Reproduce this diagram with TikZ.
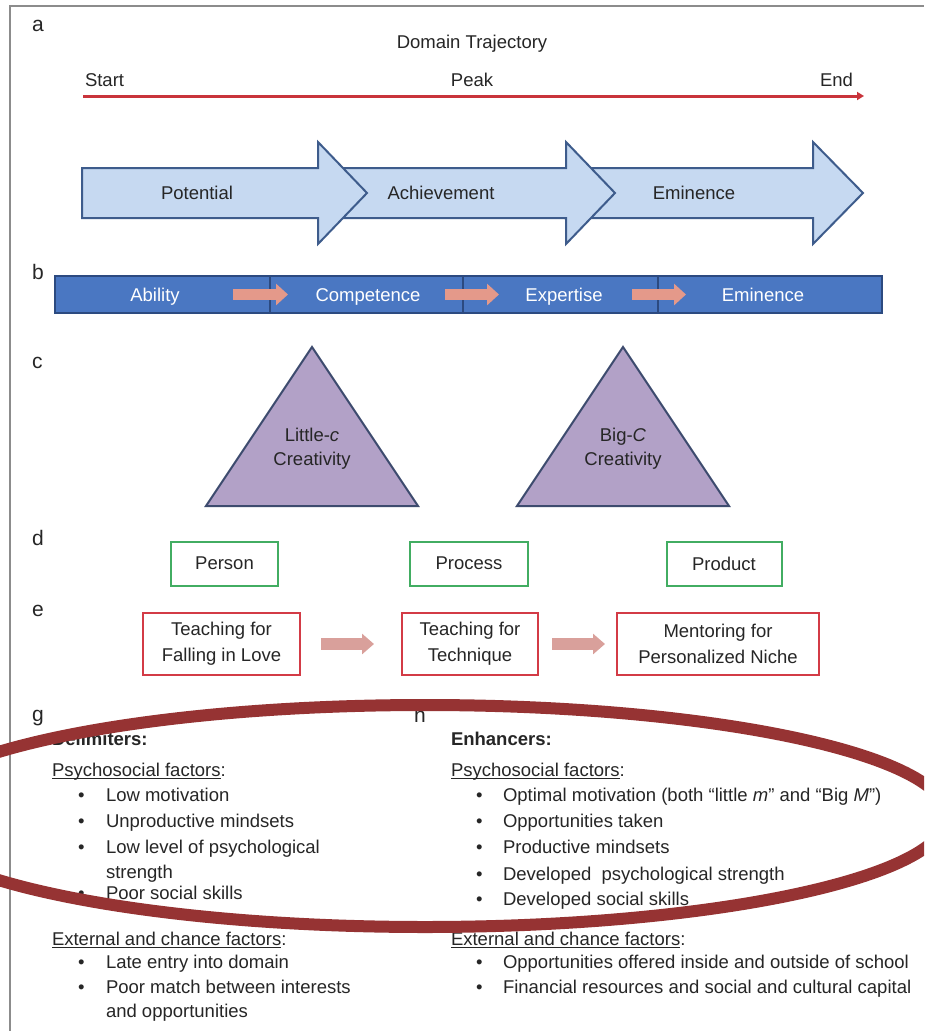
\documentclass[tikz,border=0pt]{standalone}
\usepackage{fontspec}
\setmainfont{Liberation Sans}
\usetikzlibrary{arrows.meta}
\definecolor{txt}{HTML}{262626}
\definecolor{framec}{HTML}{8C8C8C}
\definecolor{trajred}{HTML}{C9343B}
\definecolor{arrowfill}{HTML}{C6D9F1}
\definecolor{arrowline}{HTML}{3E5C8C}
\definecolor{barfill}{HTML}{4A77C2}
\definecolor{barline}{HTML}{2C4A80}
\definecolor{salmon}{HTML}{E4998A}
\definecolor{salmontwo}{HTML}{D9A09B}
\definecolor{trifill}{HTML}{B2A1C7}
\definecolor{triline}{HTML}{3D4B6E}
\definecolor{greenbox}{HTML}{42AD62}
\definecolor{redbox}{HTML}{D33B46}
\definecolor{ellipsec}{HTML}{963333}
\newcommand\myfs{\fontsize{18.5}{24}\selectfont}
\newcommand\myul[1]{\setbox0\hbox{#1}\rlap{\rule[-2.4pt]{\wd0}{0.9pt}}\box0}
\begin{document}
\begin{tikzpicture}[x=1pt,y=-1pt,
  every node/.style={inner sep=0pt,outer sep=0pt,text=txt,font=\myfs},
  lbl/.style={anchor=base west,font=\fontsize{21}{24}\selectfont},
  tl/.style={anchor=base west},
  tc/.style={anchor=base},
  bigarrow/.style={fill=arrowfill,draw=arrowline,line width=2pt,line join=miter},
  trajline/.style={draw=trajred,line width=3pt,-{Triangle[length=7pt,width=8pt]}},
  barstyle/.style={fill=barfill,draw=barline,line width=1.6pt},
  bardiv/.style={draw=barline,line width=1.2pt},
  barrow/.style={draw=salmon,line width=11pt,-{Triangle[length=12pt,width=21pt]}},
  boxarrow/.style={draw=salmontwo,line width=12pt,-{Triangle[length=12pt,width=20pt]}},
  tri/.style={fill=trifill,draw=triline,line width=2pt,line join=miter},
  gbox/.style={draw=greenbox,line width=2pt,minimum height=44pt,align=center},
  rbox/.style={draw=redbox,line width=2pt,minimum height=62pt,align=center,font=\fontsize{18.5}{26}\selectfont},
  ring/.style={draw=ellipsec,line width=12pt}
]
\useasboundingbox (0,0) rectangle (924,1031);
\fill[white] (0,0) rectangle (924,1031);
\draw[framec,line width=2pt] (10,1031) -- (10,6) -- (924,6);

% panel labels
\node[lbl] (la) at (32,31) {a};
\node[lbl] (lb) at (32,279) {b};
\node[lbl] (lc) at (32,368) {c};
\node[lbl] (ld) at (32,545) {d};
\node[lbl] (le) at (32,616) {e};
\node[lbl] (lg) at (32,721) {g};
\node[lbl] (lh) at (414,722) {h};

% panel a
\node[tc] (dt) at (472,48) {Domain Trajectory};
\node[tl] (start) at (85,86) {Start};
\node[tc] (peak) at (472,86) {Peak};
\node[anchor=base east] (end) at (853,86) {End};
\coordinate (ts) at (83,96);
\coordinate (te) at (864,96);
\draw[trajline] (ts) -- (te);

\draw[bigarrow] (565,168) -- (813,168) -- (813,142) -- (863,193) -- (813,244) -- (813,218) -- (565,218) -- cycle;
\draw[bigarrow] (318,168) -- (566,168) -- (566,142) -- (615,193) -- (566,244) -- (566,218) -- (318,218) -- cycle;
\draw[bigarrow] (82,168) -- (318,168) -- (318,142) -- (367,193) -- (318,244) -- (318,218) -- (82,218) -- cycle;
\node[tc] (pot) at (197,199) {Potential};
\node[tc] (ach) at (441,199) {Achievement};
\node[tc] (emi) at (694,199) {Eminence};

% panel b
\draw[barstyle] (55,276) rectangle (882,313);
\draw[bardiv] (270,276) -- (270,313);
\draw[bardiv] (463,276) -- (463,313);
\draw[bardiv] (658,276) -- (658,313);
\node[tc,text=white] (abil) at (155,301) {Ability};
\node[tc,text=white] (comp) at (368,301) {Competence};
\node[tc,text=white] (expe) at (564,301) {Expertise};
\node[tc,text=white] (emin) at (763,301) {Eminence};
\coordinate (ba1) at (233,294.5); \coordinate (bb1) at (288,294.5);
\coordinate (ba2) at (445,294.5); \coordinate (bb2) at (499,294.5);
\coordinate (ba3) at (632,294.5); \coordinate (bb3) at (686,294.5);
\draw[barrow] (ba1) -- (bb1);
\draw[barrow] (ba2) -- (bb2);
\draw[barrow] (ba3) -- (bb3);

% panel c
\draw[tri] (312,347) -- (418,506) -- (206,506) -- cycle;
\draw[tri] (623,347) -- (729,506) -- (517,506) -- cycle;
\node[align=center] (lit) at (312,449) {Little-\textit{c}\\Creativity};
\node[align=center] (big) at (623,449) {Big-\textit{C}\\Creativity};

% panel d
\node[gbox,minimum width=107pt] (person) at (224.5,563.5) {Person};
\node[gbox,minimum width=118pt] (process) at (469,563.5) {Process};
\node[gbox,minimum width=115pt] (product) at (724,563.5) {Product};

% panel e
\node[rbox,minimum width=157pt] (e1) at (221.5,644) {Teaching for\\Falling in Love};
\node[rbox,minimum width=136pt] (e2) at (470,644) {Teaching for\\Technique};
\node[rbox,minimum width=202pt] (e3) at (718,644) {Mentoring for\\Personalized Niche};
\draw[boxarrow,shorten <=21pt,shorten >=28pt] (e1.east) -- (e2.west);
\draw[boxarrow,shorten <=14pt,shorten >=12pt] (e2.east) -- (e3.west);

% panel g
\node[tl,font=\myfs\bfseries] (delim) at (52,745) {Delimiters:};
\node[tl] (gps) at (52,776) {\myul{Psychosocial factors}:};
\node[tl] (gb1) at (78,801) {\textbullet};
\node[tl] (gt1) at (106,801) {Low motivation};
\node[tl] (gb2) at (78,827) {\textbullet};
\node[tl] (gt2) at (106,827) {Unproductive mindsets};
\node[tl] (gb3) at (78,853) {\textbullet};
\node[tl] (gt3) at (106,853) {Low level of psychological};
\node[tl] (gt3b) at (106,878) {strength};
\node[tl] (gb4) at (78,899) {\textbullet};
\node[tl] (gt4) at (106,899) {Poor social skills};
\node[tl] (gex) at (52,945) {\myul{External and chance factors}:};
\node[tl] (gb5) at (78,968) {\textbullet};
\node[tl] (gt5) at (106,968) {Late entry into domain};
\node[tl] (gb6) at (78,993) {\textbullet};
\node[tl] (gt6) at (106,993) {Poor match between interests};
\node[tl] (gt6b) at (106,1017) {and opportunities};

% panel h
\node[tl,font=\myfs\bfseries] (enh) at (451,745) {Enhancers:};
\node[tl] (hps) at (451,776) {\myul{Psychosocial factors}:};
\node[tl] (hb1) at (476,801) {\textbullet};
\node[tl] (ht1) at (503,801) {Optimal motivation (both “little \textit{m}” and “Big \textit{M}”)};
\node[tl] (hb2) at (476,827) {\textbullet};
\node[tl] (ht2) at (503,827) {Opportunities taken};
\node[tl] (hb3) at (476,853) {\textbullet};
\node[tl] (ht3) at (503,853) {Productive mindsets};
\node[tl] (hb4) at (476,880) {\textbullet};
\node[tl] (ht4) at (503,880) {Developed\hspace{0.55em}psychological strength};
\node[tl] (hb5) at (476,905) {\textbullet};
\node[tl] (ht5) at (503,905) {Developed social skills};
\node[tl] (hex) at (451,945) {\myul{External and chance factors}:};
\node[tl] (hb6) at (476,968) {\textbullet};
\node[tl] (ht6) at (503,968) {Opportunities offered inside and outside of school};
\node[tl] (hb7) at (476,993) {\textbullet};
\node[tl] (ht7) at (503,993) {Financial resources and social and cultural capital};

% highlight ellipse
\begin{scope}
\clip (0,0) rectangle (924,1031);
\draw[ring] (425,816) ellipse [x radius=522, y radius=111];
\end{scope}
\end{tikzpicture}
\end{document}
